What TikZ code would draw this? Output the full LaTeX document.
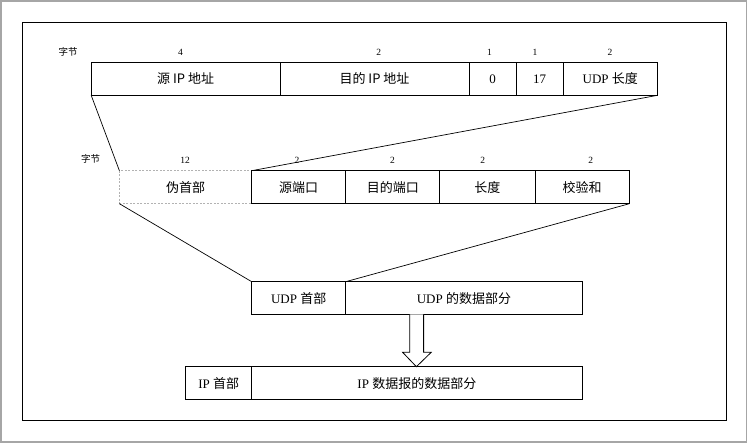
\documentclass[tikz,border=0pt]{standalone}
\usepackage{fontspec}
\setmainfont{Liberation Serif}
\newfontfamily\cjk{Noto Sans CJK SC}
\begin{document}
\begin{tikzpicture}[x=1pt,y=-1pt,
  cell/.style={draw=black, line width=0.8pt, anchor=north west, minimum height=33pt,
               inner sep=0pt, outer sep=0pt, font=\fontsize{13}{15}\selectfont},
  ghost/.style={cell, draw=gray!60, dash pattern=on 2pt off 1.5pt},
  small/.style={font=\fontsize{9.5}{11}\selectfont, inner sep=0pt},
  link/.style={draw=black, line width=0.7pt}]
\useasboundingbox (0,0) rectangle (748,443);
% frames
\draw[gray!70, line width=1.2pt] (1,1) rectangle (746.5,442);
\draw[black, line width=0.9pt] (22.4,22.3) rectangle (726,420.7);

% IP pseudo header row
\node[cell, minimum width=188.8pt] (srcip) at (91.2,62.3) {\cjk{源} IP \cjk{地址}};
\node[cell, minimum width=189pt] (dstip) at (srcip.north east) {\cjk{目的} IP \cjk{地址}};
\node[cell, minimum width=47pt] (zero) at (dstip.north east) {0};
\node[cell, minimum width=47pt] (proto) at (zero.north east) {17};
\node[cell, minimum width=94.6pt] (udplen) at (proto.north east) {UDP \cjk{长度}};
\node[small] (b1) at (68,52.3) {\cjk{字节}};
\node[small] at (180.5,52.3) {4};
\node[small] at (378.7,52.3) {2};
\node[small] at (489.5,52.3) {1};
\node[small] at (535,52.3) {1};
\node[small] at (610,52.3) {2};

% UDP header row
\node[ghost, minimum width=132.3pt] (pseudo) at (119.4,170.7) {\cjk{伪首部}};
\node[cell, minimum width=94pt] (sport) at (pseudo.north east) {\cjk{源端口}};
\node[cell, minimum width=94.1pt] (dport) at (sport.north east) {\cjk{目的端口}};
\node[cell, minimum width=95.1pt] (len) at (dport.north east) {\cjk{长度}};
\node[cell, minimum width=94.5pt] (csum) at (len.north east) {\cjk{校验和}};
\node[small] (b2) at (90.7,158.5) {\cjk{字节}};
\node[small] at (185,160.7) {12};
\node[small] at (297,160.7) {2};
\node[small] at (392.5,160.7) {2};
\node[small] at (482.8,160.7) {2};
\node[small] at (590.7,160.7) {2};

% UDP datagram
\node[cell, minimum width=94pt] (udph) at (251.7,281.7) {UDP \cjk{首部}};
\node[cell, minimum width=236.4pt] (udpd) at (udph.north east) {UDP \cjk{的数据部分}};

% IP datagram
\node[cell, minimum width=65.9pt] (iph) at (185.8,366.7) {IP \cjk{首部}};
\node[cell, minimum width=330.4pt] (ipd) at (iph.north east) {IP \cjk{数据报的数据部分}};

% expansion lines
\draw[link] (srcip.south west) -- (pseudo.north west);
\draw[link] (udplen.south east) -- (sport.north west);
\draw[link] (pseudo.south west) -- (udph.north west);
\draw[link] (csum.south east) -- (udpd.north west);

% hollow arrow
\draw[black, line width=0.8pt, fill=white]
  (409.7,314.3) -- (409.7,352.3) -- (402.6,352.3) -- (416.4,366.7)
  -- (431.2,352.3) -- (423.6,352.3) -- (423.6,314.3);
\end{tikzpicture}
\end{document}
